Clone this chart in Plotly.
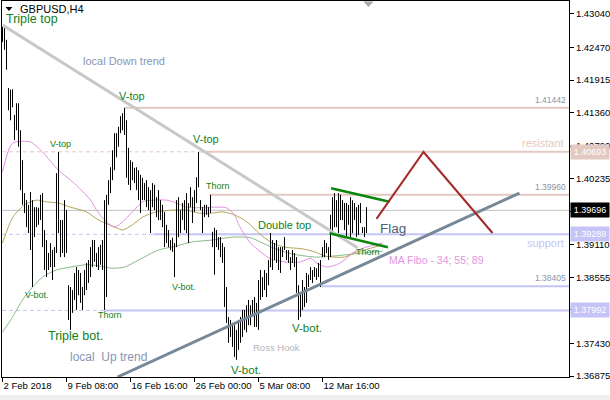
import plotly.graph_objects as go

# ---------------- data ----------------
bar_high = [
    1.4282, 1.4280, 1.4260, 1.4178, 1.4175, 1.4176, 1.4132, 1.4152, 1.4152, 1.4106,
    1.4055, 1.3999, 1.3987, 1.3979, 1.4001, 1.3987, 1.3975, 1.3975, 1.3974, 1.3996,
    1.3999, 1.3936, 1.3919, 1.3897, 1.3914, 1.3902, 1.3907, 1.4033, 1.4069, 1.3953,
    1.3953, 1.3987, 1.3970, 1.3842, 1.3839, 1.3834, 1.3863, 1.3873, 1.3868, 1.3863,
    1.3839, 1.3868, 1.3880, 1.3885, 1.3907, 1.3919, 1.3919, 1.3897, 1.3907, 1.3911,
    1.3919, 1.3987, 1.3996, 1.4021, 1.4043, 1.4072, 1.4101, 1.4101, 1.4112, 1.4130,
    1.4135, 1.4144, 1.4123, 1.4076, 1.4055, 1.4052, 1.4042, 1.4043, 1.4038, 1.4030,
    1.4025, 1.4016, 1.4021, 1.4009, 1.4004, 1.4016, 1.4013, 1.3992, 1.4004, 1.3987,
    1.3979, 1.3967, 1.3945, 1.3936, 1.3919, 1.3923, 1.3914, 1.3987, 1.3992, 1.3970,
    1.3982, 1.3987, 1.3999, 1.3982, 1.4009, 1.3992, 1.4004, 1.4026, 1.4069, 1.3987,
    1.3975, 1.3979, 1.3979, 1.3975, 1.3996, 1.3933, 1.3940, 1.3936, 1.3924, 1.3924,
    1.3914, 1.3907, 1.3839, 1.3788, 1.3783, 1.3778, 1.3774, 1.3766, 1.3783, 1.3788,
    1.3800, 1.3800, 1.3808, 1.3817, 1.3808, 1.3817, 1.3822, 1.3812, 1.3851, 1.3868,
    1.3856, 1.3868, 1.3863, 1.3885, 1.3931, 1.3919, 1.3914, 1.3919, 1.3907, 1.3907,
    1.3907, 1.3924, 1.3902, 1.3902, 1.3890, 1.3902, 1.3897, 1.3890, 1.3842, 1.3829,
    1.3851, 1.3839, 1.3863, 1.3860, 1.3873, 1.3868, 1.3873, 1.3871, 1.3880, 1.3885,
    1.3907, 1.3919, 1.3914, 1.3907, 1.3962, 1.3992, 1.3999, 1.3987, 1.3999, 1.3996,
    1.3987, 1.3982, 1.3982, 1.3979, 1.3992, 1.3987, 1.3982, 1.3975, 1.3979, 1.3982,
    1.3941, 1.3941, 1.3975,
]
bar_low = [
    1.4256, 1.4243, 1.4209, 1.4140, 1.4123, 1.4145, 1.4089, 1.4106, 1.4078, 1.4004,
    1.3979, 1.3965, 1.3941, 1.3931, 1.3902, 1.3839, 1.3924, 1.3941, 1.3945, 1.3953,
    1.3907, 1.3868, 1.3856, 1.3868, 1.3873, 1.3851, 1.3873, 1.3897, 1.3931, 1.3890,
    1.3897, 1.3890, 1.3897, 1.3783, 1.3766, 1.3795, 1.3817, 1.3800, 1.3825, 1.3812,
    1.3800, 1.3825, 1.3834, 1.3846, 1.3856, 1.3873, 1.3882, 1.3873, 1.3868, 1.3877,
    1.3868, 1.3800, 1.3822, 1.3979, 1.3999, 1.4021, 1.4038, 1.4060, 1.4078, 1.4101,
    1.4106, 1.4098, 1.4025, 1.4013, 1.4004, 1.4021, 1.4016, 1.4004, 1.3987, 1.3965,
    1.3987, 1.3987, 1.3975, 1.3970, 1.3931, 1.3975, 1.3970, 1.3958, 1.3953, 1.3953,
    1.3941, 1.3907, 1.3914, 1.3907, 1.3902, 1.3899, 1.3856, 1.3907, 1.3924, 1.3931,
    1.3953, 1.3936, 1.3931, 1.3914, 1.3975, 1.3948, 1.3967, 1.3982, 1.4009, 1.3970,
    1.3931, 1.3958, 1.3962, 1.3958, 1.3965, 1.3907, 1.3860, 1.3907, 1.3902, 1.3890,
    1.3880, 1.3805, 1.3778, 1.3744, 1.3754, 1.3737, 1.3720, 1.3715, 1.3732, 1.3744,
    1.3754, 1.3766, 1.3762, 1.3774, 1.3774, 1.3788, 1.3771, 1.3771, 1.3766, 1.3817,
    1.3822, 1.3834, 1.3822, 1.3842, 1.3873, 1.3868, 1.3885, 1.3880, 1.3868, 1.3863,
    1.3890, 1.3902, 1.3885, 1.3880, 1.3868, 1.3880, 1.3873, 1.3829, 1.3783, 1.3788,
    1.3800, 1.3805, 1.3812, 1.3839, 1.3851, 1.3846, 1.3856, 1.3851, 1.3856, 1.3839,
    1.3890, 1.3890, 1.3897, 1.3885, 1.3890, 1.3931, 1.3941, 1.3941, 1.3931, 1.3953,
    1.3953, 1.3936, 1.3924, 1.3945, 1.3924, 1.3931, 1.3953, 1.3924, 1.3928, 1.3948,
    1.3931, 1.3924, 1.3931,
]

date_tick_bars = [0, 32, 64, 96, 128, 160]
date_tick_text = ["2 Feb 2018", "9 Feb 08:00", "16 Feb 16:00", "26 Feb 00:00", "5 Mar 08:00", "12 Mar 16:00"]
price_ticks = [1.43040, 1.42470, 1.41915, 1.41360, 1.40790, 1.40235, 1.39680,
               1.39110, 1.38555, 1.38000, 1.37430, 1.36875]
# tick labels that sit fully under a price box in the reference are not shown
price_tick_text = ["1.43040", "1.42470", "1.41915", "1.41360", "1.40790", "1.40235", "",
                   "1.39110", "1.38555", "", "1.37430", "1.36875"]

ma34_bar = [0, 5, 14, 20, 28, 34, 38, 44, 48, 52, 56, 61, 65, 70, 75, 82, 87, 92, 97, 102,
            107, 112, 116, 118, 121, 124, 129, 134, 141, 149, 154, 157, 162, 167, 171, 176, 181, 190]
ma34_val = [1.4035, 1.4084, 1.4086, 1.4069, 1.4038, 1.4021, 1.4009, 1.3987, 1.3965, 1.3950,
            1.3941, 1.3953, 1.3967, 1.3984, 1.3987, 1.3987, 1.3982, 1.3975, 1.3974, 1.3975,
            1.3975, 1.3974, 1.3962, 1.3946, 1.3928, 1.3914, 1.3899, 1.3887, 1.3882, 1.3882,
            1.3888, 1.3880, 1.3873, 1.3877, 1.3885, 1.3899, 1.3906, 1.3914]
ma55_bar = [0, 5, 11, 17, 22, 28, 34, 42, 48, 57, 60, 65, 70, 77, 85, 92, 98, 105, 110, 115,
            120, 124, 128, 131, 135, 141, 150, 156, 161, 166, 171, 176, 181, 190]
ma55_val = [1.3914, 1.3957, 1.3979, 1.3987, 1.3984, 1.3982, 1.3975, 1.3967, 1.3953, 1.3940,
            1.3936, 1.3945, 1.3958, 1.3967, 1.3970, 1.3970, 1.3965, 1.3965, 1.3967, 1.3963,
            1.3955, 1.3945, 1.3931, 1.3923, 1.3914, 1.3907, 1.3904, 1.3899, 1.3892, 1.3890,
            1.3890, 1.3897, 1.3902, 1.3911]
ma89_bar = [0, 5, 10, 15, 20, 27, 34, 42, 48, 55, 61, 68, 78, 87, 95, 105, 115, 124, 130, 138,
            147, 157, 166, 172, 180, 190]
ma89_val = [1.3762, 1.3788, 1.3817, 1.3839, 1.3856, 1.3868, 1.3873, 1.3877, 1.3875, 1.3871,
            1.3873, 1.3885, 1.3902, 1.3909, 1.3916, 1.3919, 1.3924, 1.3923, 1.3914, 1.3902,
            1.3894, 1.3890, 1.3892, 1.3894, 1.3897, 1.3900]

down_trend_bar = [0, 177.5]
down_trend_val = [1.4285, 1.3906]
up_trend_bar = [57.5, 258.5]
up_trend_val = [1.36858, 1.3999]
flag_top_bar = [164.3, 193.5]
flag_top_val = [1.40071, 1.39843]
flag_bot_bar = [163.5, 192.7]
flag_bot_val = [1.39305, 1.39067]
projection_bar = [187, 210.5, 245]
projection_val = [1.3955, 1.4069, 1.3931]

current_price = 1.39696
res_levels = [1.41442, 1.40693, 1.39960]
sup_levels = [1.39288, 1.38405, 1.37992]

# ---------------- styling ----------------
FONT = "Liberation Sans, Arial, sans-serif"
ROSY = "#e2c9c1"
LAV = "#c4c4f6"
GREEN = "#12801a"
SLATE = "#8896b4"
X_MAX = 283.25
PW, PH, ML, MB = 567, 376, 2, 23   # plot width/height and margins in px


def px(xp):
    return (xp - ML) / PW


def py(yp):
    return (400 - MB - yp) / PH


fig = go.Figure()


def seg(x0, x1, y, color, width, dash=None):
    fig.add_trace(go.Scatter(x=[x0, x1], y=[y, y], mode="lines",
                             line=dict(color=color, width=width, dash=dash),
                             hoverinfo="skip", showlegend=False))


# current price line
seg(-0.25, X_MAX, current_price, "#c0c0c0", 1)
# resistance levels (solid from the pivot bar, dashed before)
seg(61, X_MAX, res_levels[0], ROSY, 2)
seg(-0.25, 99, res_levels[1], ROSY, 1, "4px,3px")
seg(99, X_MAX, res_levels[1], ROSY, 2)
seg(103.5, X_MAX, res_levels[2], ROSY, 2)
# support levels
seg(-0.25, 75.5, sup_levels[0], LAV, 1, "4px,3px")
seg(75.5, X_MAX, sup_levels[0], LAV, 2)
seg(159.5, X_MAX, sup_levels[1], LAV, 2)
seg(-0.25, 51, sup_levels[2], LAV, 1, "4px,3px")
seg(51, X_MAX, sup_levels[2], LAV, 2)

# moving averages
for bx, vy, col in [(ma89_bar, ma89_val, "#86bb86"), (ma55_bar, ma55_val, "#b3a452"),
                    (ma34_bar, ma34_val, "#e48ee4")]:
    fig.add_trace(go.Scatter(x=bx, y=vy, mode="lines",
                             line=dict(color=col, width=1, shape="spline", smoothing=0.7),
                             hoverinfo="skip", showlegend=False))

# price bars (high-low)
xs, ys = [], []
for i, (h, l) in enumerate(zip(bar_high, bar_low)):
    xs += [i, i, None]
    ys += [l, h, None]
fig.add_trace(go.Scatter(x=xs, y=ys, mode="lines", line=dict(color="black", width=1),
                         hoverinfo="skip", showlegend=False))

# trend lines and patterns
for bx, vy, col, w in [(down_trend_bar, down_trend_val, "#c8c8c8", 3),
                       (up_trend_bar, up_trend_val, "#778899", 3),
                       (flag_top_bar, flag_top_val, "#0a870a", 2.5),
                       (flag_bot_bar, flag_bot_val, "#0a870a", 2.5),
                       (projection_bar, projection_val, "#a52a2a", 2)]:
    fig.add_trace(go.Scatter(x=bx, y=vy, mode="lines", line=dict(color=col, width=w),
                             hoverinfo="skip", showlegend=False))

ann = []


def txt(t, x, y, color, size, xanchor="center", yshift=0, xref="x", yref="y"):
    ann.append(dict(text=t, x=x, y=y, xref=xref, yref=yref, showarrow=False,
                    xanchor=xanchor, yanchor="middle", yshift=yshift,
                    font=dict(family=FONT, size=size, color=color)))


txt("Triple top", 0.5, 1.4296, GREEN, 12.5, "left")
txt("local Down trend", 60.5, 1.42239, SLATE, 11)
txt("V-top", 64.75, 1.41643, GREEN, 11)
txt("V-top", 28.75, 1.40826, GREEN, 9)
txt("V-top", 101.75, 1.40911, GREEN, 11)
txt("Thorn", 107.5, 1.40110, GREEN, 9)
txt("V-bot.", 17.25, 1.38254, GREEN, 9)
txt("Thorn", 53.75, 1.37914, GREEN, 9)
txt("Triple bot.", 36.25, 1.37556, GREEN, 12.5)
txt("local  Up trend", 52.75, 1.37198, SLATE, 12)
txt("V-bot.", 90.75, 1.38390, GREEN, 9)
txt("Double top", 140.75, 1.39446, GREEN, 11)
txt("Flag", 187.5, 1.39395, "#4a6272", 13.5, "left")
txt("Thorn", 182.75, 1.38986, GREEN, 9)
txt("MA Fibo - 34; 55; 89", 192, 1.38850, "#e096e0", 10.5, "left")
txt("Ross Hook", 136.75, 1.37352, "#b4b4b4", 9.5)
txt("V-bot.", 152.25, 1.37692, GREEN, 11.5)
txt("V-bot.", 121.75, 1.36977, GREEN, 11.5)
# level texts
txt("resistant", X_MAX - 1.5, res_levels[1], ROSY, 11, "right", yshift=9)
txt("support", X_MAX - 1.5, sup_levels[0], LAV, 11, "right", yshift=-9)
for lv in [res_levels[0], res_levels[2], sup_levels[1]]:
    txt(f"{lv:.5f}", X_MAX - 0.5, lv, "#8a94a8", 8.5, "right", yshift=8)

# price boxes on the axis
for lv, bg in [(res_levels[1], ROSY), (current_price, "#000000"),
               (sup_levels[0], LAV), (sup_levels[2], LAV)]:
    ann.append(dict(text=f"{lv:.5f}", x=1, xref="paper", y=lv, yref="y", xanchor="left",
                    yanchor="middle", xshift=1, showarrow=False, bgcolor=bg, borderpad=1,
                    width=36, height=12, align="center",
                    font=dict(family=FONT, size=9, color="white")))

# title
ann.append(dict(text="GBPUSD,H4", x=px(18), y=py(8.5), xref="paper", yref="paper",
                xanchor="left", yanchor="middle", showarrow=False,
                font=dict(family=FONT, size=11, color="black")))

shapes = [
    dict(type="rect", xref="paper", yref="paper", x0=-0.01, x1=1.08,
         y0=py(395), y1=py(401), fillcolor="#f0f0f0", line=dict(width=0), layer="below"),
    # small menu triangle before the symbol name
    dict(type="path", xref="paper", yref="paper",
         path=f"M {px(5.5)},{py(7)} L {px(12.5)},{py(7)} L {px(9)},{py(11)} Z",
         fillcolor="black", line=dict(width=0), layer="above"),
    # chart-shift marker at the top
    dict(type="path", xref="paper", yref="paper",
         path=f"M {px(363.5)},{py(1.5)} L {px(373.5)},{py(1.5)} L {px(368.5)},{py(7)} Z",
         fillcolor="#a8a8a8", line=dict(width=0), layer="above"),
]

fig.update_layout(
    width=610, height=400,
    margin=dict(l=ML, r=41, t=1, b=MB),
    paper_bgcolor="white", plot_bgcolor="white",
    showlegend=False, hovermode=False,
    annotations=ann,
    shapes=shapes,
    xaxis=dict(range=[-0.25, X_MAX], showgrid=False, zeroline=False,
               showline=True, mirror=True, linecolor="black", linewidth=1,
               tickmode="array", tickvals=date_tick_bars, ticktext=date_tick_text,
               ticks="outside", ticklen=4, tickcolor="black", tickangle=0,
               ticklabelposition="outside right", automargin=False,
               tickfont=dict(family=FONT, size=9.5, color="black")),
    yaxis=dict(range=[1.36858, 1.43261], side="right", showgrid=False, zeroline=False,
               showline=True, mirror=True, linecolor="black", linewidth=1,
               tickmode="array", tickvals=price_ticks, automargin=False,
               ticktext=price_tick_text,
               ticks="outside", ticklen=4, tickcolor="black",
               tickfont=dict(family=FONT, size=9.5, color="black")),
)

fig.write_html("out.html", config={"displayModeBar": False},
               post_script="document.body.style.margin='0px';document.body.style.overflow='hidden';")
